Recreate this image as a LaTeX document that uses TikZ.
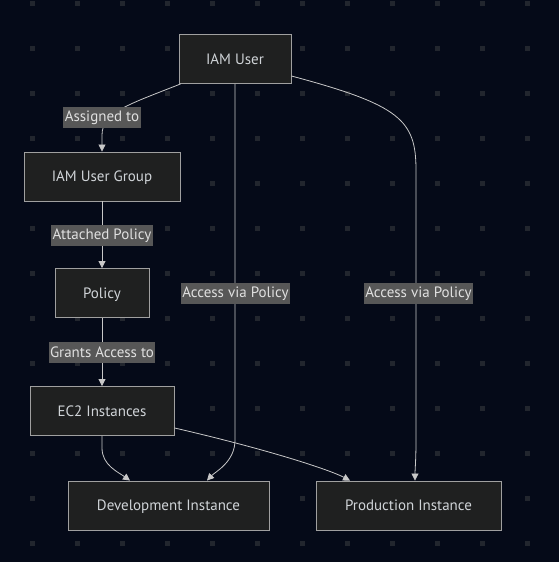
\documentclass[tikz,border=0pt]{standalone}
\usepackage{fontspec}
\setmainfont{PT Sans}
\usetikzlibrary{arrows.meta}
\definecolor{bgcol}{HTML}{050A18}
\definecolor{dotcol}{HTML}{22262E}
\definecolor{boxfill}{HTML}{1F2020}
\definecolor{boxline}{HTML}{A0A0A0}
\definecolor{boxtext}{HTML}{D0D4D8}
\definecolor{lblfill}{HTML}{575757}
\definecolor{lbltext}{HTML}{E0E0E0}
\definecolor{linkcol}{HTML}{C8C8C8}
\begin{document}
\begin{tikzpicture}[x=1pt,y=-1pt,font=\fontsize{15}{17}\selectfont,
    box/.style={draw=boxline,fill=boxfill,text=boxtext,line width=0.9pt,
      minimum height=49,inner sep=0pt,text depth=0.5pt},
    lbl/.style={fill=lblfill,text=lbltext,inner sep=1.5pt,minimum height=21},
    link/.style={draw=linkcol,line width=0.8pt,-{Triangle[length=7pt,width=7pt]}}]
	% background and dot grid
	\fill[bgcol] (0,0) rectangle (559,562);
	\foreach \i in {0,...,11}
		\foreach \j in {0,...,12}
			\fill[dotcol] (29.5+45*\i,0.5+45*\j) rectangle ++(5,5);
	% nodes
	\node[box,minimum width=112] (user) at (235,59) {IAM User};
	\node[box,minimum width=156] (group) at (102,176.5) {IAM User Group};
	\node[box,minimum width=94] (policy) at (102,293) {Policy};
	\node[box,minimum width=144] (ec2) at (102,411) {EC2 Instances};
	\node[box,minimum width=201] (dev) at (168.5,505.5) {Development Instance};
	\node[box,minimum width=185] (prod) at (408.5,505.5) {Production Instance};
	% links
	\draw[link] ([xshift=2]user.south west) .. controls (130,104) and (102,112)
		.. (102,135) -- (group.north);
	\draw[link] (group) -- (policy);
	\draw[link] (policy) -- (ec2);
	\draw[link] (user.south) -- (235,440) .. controls (235,462) and (215,472)
		.. ([xshift=38.5]dev.north);
	\draw[link] ([yshift=-17]user.east) .. controls (400,105) and (416,120)
		.. (416,170) -- (416,440) .. controls (416,460) and (415,470)
		.. ([xshift=6.5]prod.north);
	\draw[link] (ec2.south) -- (102,448) .. controls (102,465) and (118,472)
		.. ([xshift=-38.5]dev.north);
	\draw[link] ([yshift=8]ec2.south east) .. controls (270,450) and (330,470)
		.. ([xshift=-58.5]prod.north);
	% labels
	\node[lbl] (assigned) at (102,117.5) {Assigned to};
	\node[lbl] (attached) at (102,235.5) {Attached Policy};
	\node[lbl] (grants) at (102,352.5) {Grants Access to};
	\node[lbl] (viadev) at (235.5,293.5) {Access via Policy};
	\node[lbl] (viaprod) at (418.5,293.5) {Access via Policy};
\end{tikzpicture}
\end{document}
